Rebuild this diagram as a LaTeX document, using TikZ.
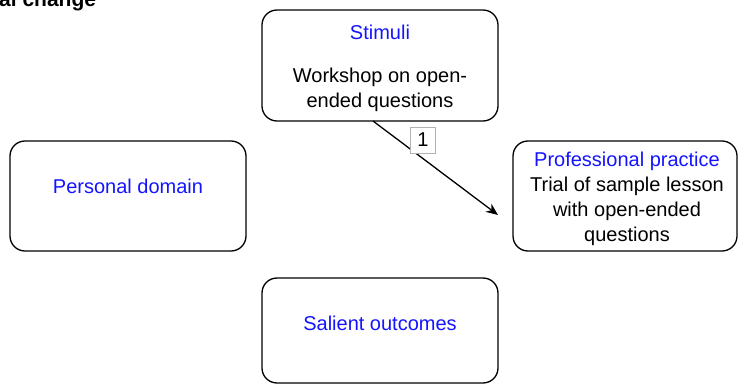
\documentclass[tikz,border=0pt]{standalone}
\usepackage{fontspec}
\setmainfont{Liberation Sans}
\usetikzlibrary{arrows.meta}
\definecolor{lblue}{RGB}{20,20,255}
\begin{document}
\begin{tikzpicture}[x=1pt,y=-1pt,
  box/.style={draw=black,line width=1.3pt,rounded corners=15pt,inner sep=0pt},
  txt/.style={font=\fontsize{20}{25}\selectfont,align=center,inner sep=0pt},
  head/.style={txt,text=lblue},
  lbl/.style={draw=black!30,fill=white,line width=0.8pt,font=\fontsize{20}{24}\selectfont,minimum width=25pt,minimum height=26pt,inner sep=0pt}]
\useasboundingbox (0,0) rectangle (740,385);
\clip (0,0) rectangle (740,385);
\node[anchor=base west,font=\bfseries\fontsize{21}{24}\selectfont,inner sep=0pt] (title) at (-1,6.5) {al change};
% boxes
\draw[box] (262,10) rectangle (498,121);
\node[inner sep=0pt] (stim) at (380,65.5) {};
\draw[box] (10,141) rectangle (246,251);
\node[inner sep=0pt] (pers) at (128,196) {};
\draw[box] (513,141) rectangle (737,251);
\node[inner sep=0pt] (prof) at (625,196) {};
\draw[box] (262,278) rectangle (498,383);
\node[inner sep=0pt] (sal) at (380,330) {};
% texts
\node[head] (stimh) at (380,32) {Stimuli};
\node[txt] (stimt) at (380,90) {Workshop on open-\\ended questions};
\node[head] (persh) at (128,186) {Personal domain};
\node[head] (profh) at (627,161) {Professional practice};
\node[txt] (proft) at (627,211) {Trial of sample lesson\\with open-ended\\questions};
\node[head] (salh) at (380,323) {Salient outcomes};
% arrow
\coordinate (a) at (373,121);
\coordinate (b) at (498,215);
\draw[line width=1.3pt,-{Stealth[length=12pt,width=10pt]}] (a) -- (b);
\node[lbl] (one) at (423,140) {1};
\end{tikzpicture}
\end{document}
